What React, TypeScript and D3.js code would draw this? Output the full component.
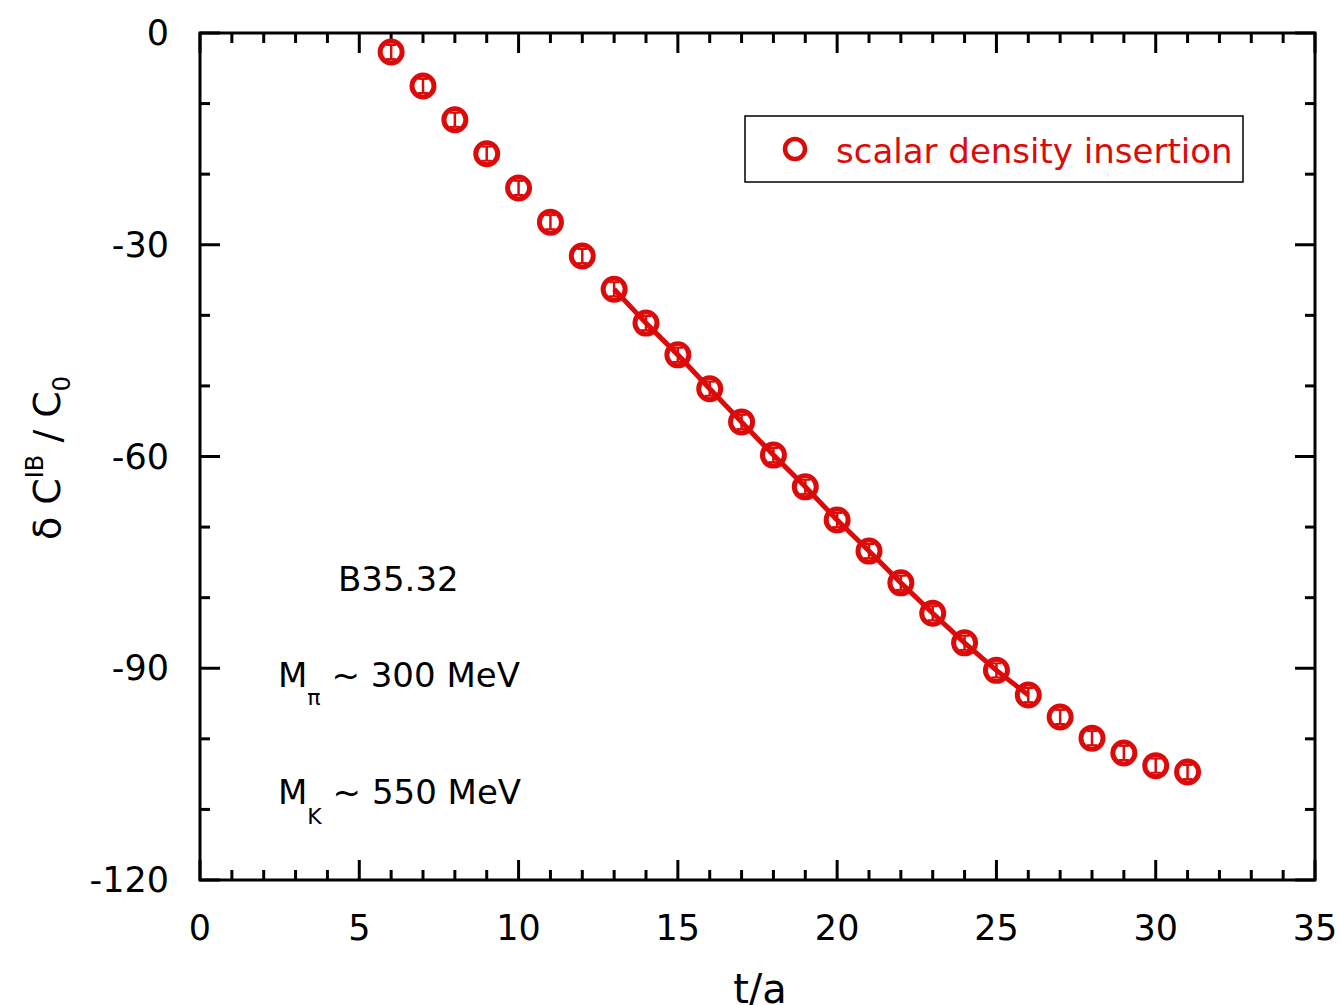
import React from "react";
import * as d3 from "d3";

const tValues = [6,7,8,9,10,11,12,13,14,15,16,17,18,19,20,21,22,23,24,25,26,27,28,29,30,31];
const yValues = [-2.7,-7.5,-12.3,-17.1,-21.95,-26.8,-31.6,-36.3,-41.1,-45.6,-50.4,-55.1,-59.8,-64.3,-69.0,-73.4,-77.9,-82.2,-86.4,-90.3,-93.8,-96.9,-99.9,-102.0,-103.8,-104.7];
const yErrors = [1.0,1.0,1.0,1.0,1.0,1.0,1.0,1.0,1.0,1.0,1.0,1.0,1.0,1.0,1.0,1.0,1.0,1.0,1.0,1.0,1.0,1.0,1.0,1.0,1.0,1.0];
const fitT = [13,14,15,16,17,18,19,20,21,22,23,24,25,26];
const fitY = [-36.3,-41.1,-45.6,-50.4,-55.1,-59.8,-64.3,-69.0,-73.4,-77.9,-82.2,-86.4,-90.3,-93.8];
const xTickLabels = [0,5,10,15,20,25,30,35];
const yTickLabels = [0,-30,-60,-90,-120];
const legendLabel = "scalar density insertion";

const RED = "#dd0a0a";
const FONT = "'DejaVu Sans', 'Noto Sans', sans-serif";

export default function App() {
  const L = 200, R = 1315, T = 33, B = 880;
  const x = d3.scaleLinear().domain([0, 35]).range([L, R]);
  const y = d3.scaleLinear().domain([-120, 0]).range([B, T]);
  const xMinor = d3.range(0, 36, 1);
  const yMinor = d3.range(-120, 1, 10);
  const line = d3.line<number>().x((_, i) => x(fitT[i])).y((d) => y(d));

  return (
    <svg width={1340} height={1005} style={{ position: "absolute", left: 0, top: 0, background: "#fff" }}>
      <rect x={0} y={0} width={1340} height={1005} fill="#fff" />
      {/* ticks */}
      <g stroke="#000" strokeWidth={3}>
        {xMinor.map((v) => {
          const len = v % 5 === 0 ? 20 : 10;
          return (
            <g key={"xt" + v}>
              <line x1={x(v)} x2={x(v)} y1={B} y2={B - len} />
              <line x1={x(v)} x2={x(v)} y1={T} y2={T + len} />
            </g>
          );
        })}
        {yMinor.map((v) => {
          const len = v % 30 === 0 ? 20 : 10;
          return (
            <g key={"yt" + v}>
              <line x1={L} x2={L + len} y1={y(v)} y2={y(v)} />
              <line x1={R} x2={R - len} y1={y(v)} y2={y(v)} />
            </g>
          );
        })}
        <rect x={L} y={T} width={R - L} height={B - T} fill="none" />
      </g>
      {/* tick labels */}
      <g fontFamily={FONT} fontSize={35} fill="#000">
        {xTickLabels.map((v) => (
          <text key={"xl" + v} x={x(v)} y={940} textAnchor="middle">{v}</text>
        ))}
        {yTickLabels.map((v) => (
          <text key={"yl" + v} x={169} y={y(v) + 12} textAnchor="end">{v}</text>
        ))}
      </g>
      {/* axis titles */}
      <text x={760} y={1003} textAnchor="middle" fontFamily={FONT} fontSize={40}>t/a</text>
      <g transform="translate(60,458) rotate(-90)">
        <text textAnchor="middle" fontFamily={FONT} fontSize={38}>
          <tspan>δ C</tspan>
          <tspan fontSize={24} dy={-17}>IB</tspan>
          <tspan dy={17}> / C</tspan>
          <tspan fontSize={24} dy={10}>0</tspan>
        </text>
      </g>
      {/* fit line */}
      <path d={line(fitY) || ""} fill="none" stroke={RED} strokeWidth={5} />
      {/* points */}
      <g stroke={RED} fill="none">
        {tValues.map((t, i) => {
          const cx = x(t), cy = y(yValues[i]);
          const e1 = y(yValues[i] + yErrors[i]), e2 = y(yValues[i] - yErrors[i]);
          return (
            <g key={"p" + t}>
              <circle cx={cx} cy={cy} r={11} strokeWidth={5} />
              <line x1={cx} x2={cx} y1={e1} y2={e2} strokeWidth={2.5} />
              <line x1={cx - 5} x2={cx + 5} y1={e1} y2={e1} strokeWidth={2} />
              <line x1={cx - 5} x2={cx + 5} y1={e2} y2={e2} strokeWidth={2} />
            </g>
          );
        })}
      </g>
      {/* legend */}
      <rect x={745} y={116} width={498} height={66} fill="#fff" stroke="#000" strokeWidth={1.5} />
      <circle cx={795} cy={149} r={10} fill="none" stroke={RED} strokeWidth={4.5} />
      <text x={836} y={163} fontFamily={FONT} fontSize={34} fill={RED}>{legendLabel}</text>
      {/* annotations */}
      <g fontFamily={FONT} fontSize={34} fill="#000">
        <text x={338} y={591}>B35.32</text>
        <text x={278} y={687}>M<tspan fontSize={22} dy={18}>π</tspan><tspan dy={-18}> ~ 300 MeV</tspan></text>
        <text x={278} y={804}>M<tspan fontSize={22} dy={20}>K</tspan><tspan dy={-20}> ~ 550 MeV</tspan></text>
      </g>
    </svg>
  );
}
